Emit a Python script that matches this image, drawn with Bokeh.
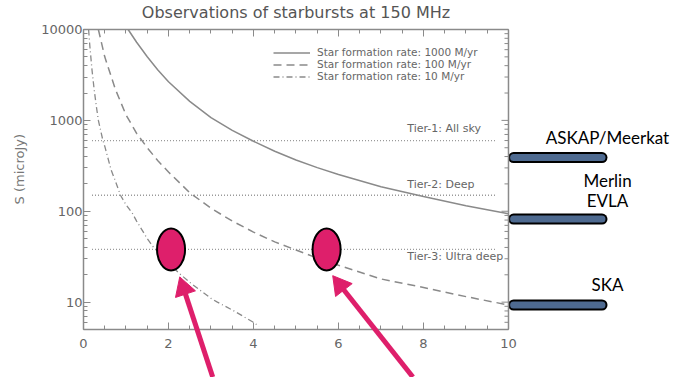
import math
from bokeh.plotting import figure
from bokeh.models import (Range1d, LinearAxis, SingleIntervalTicker, Span, Label,
                          Legend, LegendItem, PrintfTickFormatter, LogTicker,
                          CustomJSTickFormatter)
from bokeh.core.properties import value
from bokeh.embed import file_html
from bokeh.resources import INLINE

# ---- data ----
sfr1000_x = [1.05, 1.25, 1.5, 1.75, 2, 2.5, 3, 3.5, 4, 4.5, 5, 5.5, 6, 7, 8, 9, 10]
sfr1000_y = [10000, 7240, 5010, 3590, 2660, 1620, 1070, 776, 589, 457, 367, 302, 254, 186, 145, 115, 94]
sfr100_x = [0.35, 0.5, 0.75, 1, 1.25, 1.5, 1.75, 2, 2.5, 3, 3.5, 4, 4.5, 5, 5.5, 6, 7, 8, 9, 10]
sfr100_y = [10000, 5000, 2200, 1150, 720, 500, 360, 270, 160, 108, 78, 59, 46, 37.5, 30.5, 25.5, 18, 14.5, 11.5, 9.3]
sfr10_x = [0.12, 0.15, 0.2, 0.25, 0.3, 0.35, 0.45, 0.5, 0.65, 0.75, 0.87, 1, 1.15, 1.25, 1.5,
           1.65, 1.75, 2, 2.24, 2.5, 3, 3.15, 3.5, 4, 4.13]
sfr10_y = [10000, 6500, 3600, 2200, 1450, 1000, 620, 520, 285, 215, 150, 118, 95, 78, 50,
           40, 36, 27, 21, 16.5, 11, 10, 8.2, 6, 5.4]
series_labels = ["Star formation rate: 1000 M/yr", "Star formation rate: 100 M/yr",
                 "Star formation rate: 10 M/yr"]

tier_levels = [600, 150, 38]
tier_labels = ["Tier-1: All sky", "Tier-2: Deep", "Tier-3: Ultra deep"]

facility_levels = [390, 82, 9.3]
facility_labels = ["ASKAP/Meerkat", "Merlin", "EVLA", "SKA"]

callout_x = [2.06, 5.72]
callout_y = [38, 38]

title_text = "Observations of starbursts at 150 MHz"
y_title = "S (microJy)"
x_ticks_interval = 2
y_min, y_max = 5, 10000

GRAY = "#8a8a8a"
TXT = "#666666"
PINK = "#de1f6b"
BAR = "#4e6a90"
FONT = "DejaVu Sans"

p = figure(width=685, height=377, x_range=Range1d(0, 14.165), y_range=Range1d(y_min, y_max),
           y_axis_type="log", output_backend="svg", toolbar_location=None,
           min_border_left=83, min_border_right=0, min_border_top=29, min_border_bottom=48)
p.grid.visible = False
p.outline_line_color = None
p.background_fill_color = "white"

# axes
xax = p.xaxis[0]
xax.ticker = SingleIntervalTicker(interval=x_ticks_interval, num_minor_ticks=4)
xax.bounds = (0, 10)
for ax in (p.xaxis[0], p.yaxis[0]):
    ax.axis_line_color = GRAY
    ax.axis_line_width = 1.5
    ax.major_tick_line_color = GRAY
    ax.minor_tick_line_color = GRAY
    ax.major_tick_in = 7
    ax.major_tick_out = 0
    ax.minor_tick_in = 4
    ax.minor_tick_out = 0
    ax.major_label_text_font = FONT
    ax.major_label_text_font_size = "13px"
    ax.major_label_text_color = TXT
p.xaxis.major_label_standoff = 9
p.yaxis.major_label_standoff = 1
p.yaxis.ticker = LogTicker(num_minor_ticks=10)
p.yaxis.formatter = PrintfTickFormatter(format="%d")

top = LinearAxis(ticker=SingleIntervalTicker(interval=x_ticks_interval, num_minor_ticks=4),
                 formatter=CustomJSTickFormatter(code="return ''"),
                 bounds=(0, 10), axis_line_color=GRAY, axis_line_width=1.5,
                 major_tick_line_color=GRAY, minor_tick_line_color=GRAY,
                 major_tick_in=7, major_tick_out=0, minor_tick_in=4, minor_tick_out=0,
                 major_label_standoff=0)
p.add_layout(top, "above")

# right edge of the box at x = 10, with inward log ticks
p.add_layout(Span(location=10, dimension="height", line_color=GRAY, line_width=1.5))
major_right = [10 ** e for e in range(0, 5) if y_min <= 10 ** e <= y_max]
minor_right = [m * 10 ** e for e in range(0, 4) for m in range(2, 10)
               if y_min <= m * 10 ** e <= y_max]
p.ray(x=10, y=major_right, length=7, length_units="screen", angle=math.pi,
      line_color=GRAY, line_width=1)
p.ray(x=10, y=minor_right, length=4, length_units="screen", angle=math.pi,
      line_color=GRAY, line_width=1)

# tier lines
p.segment(x0=0.2, x1=9.7, y0=tier_levels, y1=tier_levels, line_color="#9a9a9a",
          line_width=1.3, line_dash="1 2")
for txt, yy in zip(tier_labels, [817, 198, 32]):
    p.add_layout(Label(x=7.62, y=yy, text=txt, text_align="left", text_baseline="middle",
                       text_font=FONT, text_font_size="11px", text_color=TXT))

# curves
r1 = p.line(sfr1000_x, sfr1000_y, line_color=GRAY, line_width=1.5)
r2 = p.line(sfr100_x, sfr100_y, line_color=GRAY, line_width=1.5, line_dash="8 5")
r3 = p.line(sfr10_x, sfr10_y, line_color=GRAY, line_width=1.3, line_dash="6 3 1 3")

legend = Legend(items=[LegendItem(label=series_labels[0], renderers=[r1]),
                       LegendItem(label=series_labels[1], renderers=[r2]),
                       LegendItem(label=series_labels[2], renderers=[r3])],
                location=(190, 247), glyph_width=37, glyph_height=9, label_height=9,
                label_standoff=7, spacing=0, padding=0, margin=0,
                label_text_font=FONT, label_text_font_size="10.5px",
                label_text_color=TXT, border_line_color=None, background_fill_alpha=0)
p.add_layout(legend)

# title and y title as overlay glyphs (outside the data frame)
p.text(x=[5], y=[15200], text=[title_text], text_align="center", text_baseline="middle",
       text_font=value(FONT), text_font_size="16px", text_color="#555555", level="overlay")
p.text(x=[-1.5], y=[290], text=[y_title], angle=math.pi / 2, text_align="center",
       text_baseline="middle", text_font=value(FONT), text_font_size="13px",
       text_color="#777777", level="overlay")

# facility bars
p.segment(x0=10.12, x1=12.2, y0=facility_levels, y1=facility_levels, line_color="black",
          line_width=11, line_cap="round")
p.segment(x0=10.12, x1=12.2, y0=facility_levels, y1=facility_levels, line_color=BAR,
          line_width=7, line_cap="round")
for txt, yy in zip(facility_labels, [650, 219, 132, 15.8]):
    p.add_layout(Label(x=12.33, y=yy, text=txt, text_align="center", text_baseline="middle",
                       text_font="Lato", text_font_size="17px", text_color="black"))

# callouts
p.ellipse(x=callout_x, y=callout_y, width=28, height=42, width_units="screen",
          height_units="screen", fill_color=PINK, line_color="black", line_width=2)

# arrows: (tail x, tail y, tip x, tip y, head fraction, head angle)
arrows = [(3.04, 1.5, 2.27, 18.7, 0.11, 0.32), (7.75, 1.5, 5.87, 19.3, 0.09, 0.66)]
for xs, ys, xe, ye, f, ang in arrows:
    hx = xe + f * (xs - xe)
    hy = ye * (ys / ye) ** f
    p.segment(x0=[xs], y0=[ys], x1=[hx], y1=[hy], line_color=PINK, line_width=5,
              level="overlay")
    p.scatter(x=[hx], y=[hy], marker="triangle", size=21, angle=ang, fill_color=PINK,
              line_color=PINK, level="overlay")

open("out.html", "w").write(file_html(p, INLINE))
